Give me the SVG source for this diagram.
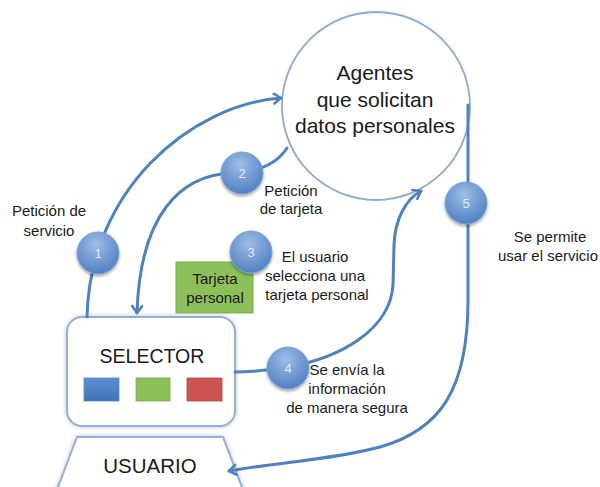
<svg xmlns="http://www.w3.org/2000/svg" width="600" height="487" viewBox="0 0 600 487">
<style>
text{font-family:"Liberation Sans",Arial,sans-serif;fill:#1a1a1a}
.lbl{font-size:15px;text-anchor:middle}
.big{font-size:21px;text-anchor:middle}
.num{font-size:13px;text-anchor:middle;fill:#e4ecf7}
.conn{fill:none;stroke:#4f81bd;stroke-width:3;stroke-linecap:round}
.bub{fill:url(#bg);stroke:#7ea3d4;stroke-width:1;filter:url(#sh)}
</style>
<defs>
<radialGradient id="bg" cx="0.45" cy="0.3" r="0.75">
<stop offset="0" stop-color="#9dbde6"/>
<stop offset="1" stop-color="#4a7cc0"/>
</radialGradient>
<linearGradient id="sq" x1="0" y1="0" x2="0" y2="1">
<stop offset="0" stop-color="#5b8fd0"/>
<stop offset="1" stop-color="#3f74bb"/>
</linearGradient>
<filter id="sh" x="-30%" y="-30%" width="160%" height="160%">
<feGaussianBlur in="SourceAlpha" stdDeviation="1.5"/>
<feOffset dx="0" dy="1.5" result="b"/>
<feComponentTransfer><feFuncA type="linear" slope="0.35"/></feComponentTransfer>
<feMerge><feMergeNode/><feMergeNode in="SourceGraphic"/></feMerge>
</filter>
<filter id="glow" x="-10%" y="-10%" width="120%" height="120%">
<feGaussianBlur in="SourceAlpha" stdDeviation="2"/>
<feComponentTransfer><feFuncA type="linear" slope="0.25"/></feComponentTransfer>
<feMerge><feMergeNode/><feMergeNode in="SourceGraphic"/></feMerge>
</filter>
<marker id="ah" markerUnits="userSpaceOnUse" markerWidth="14" markerHeight="14" refX="9" refY="6" orient="auto">
<path d="M2,1 L9,6 L2,11" fill="none" stroke="#4f81bd" stroke-width="2.6" stroke-linecap="round" stroke-linejoin="round"/>
</marker>
</defs>
<rect width="600" height="487" fill="#ffffff"/>

<g id="agentes">
<circle cx="376" cy="106" r="94" fill="#ffffff" stroke="#8eaad2" stroke-width="1.8"/>
<text class="big" x="375" y="80">Agentes</text>
<text class="big" x="375" y="107">que solicitan</text>
<text class="big" x="375" y="133">datos personales</text>
</g>

<g id="selector">
<rect x="67" y="317" width="168" height="109" rx="15" fill="#ffffff" stroke="#8fb0d8" stroke-width="2" filter="url(#glow)"/>
<text x="152" y="363" style="font-size:19.5px;text-anchor:middle">SELECTOR</text>
<rect x="84" y="378" width="35" height="23" fill="url(#sq)" stroke="#5b86c0" stroke-width="0.8"/>
<rect x="136" y="378" width="34" height="23" fill="#8dc05a" stroke="#7aa84c" stroke-width="0.8"/>
<rect x="187" y="378" width="35" height="23" fill="#cf5450" stroke="#b04643" stroke-width="0.8"/>
</g>

<g id="usuario">
<path d="M77,437 L223,437 L245,495 L55,495 Z" fill="#ffffff" stroke="#8fb0d8" stroke-width="2" filter="url(#glow)"/>
<text x="150" y="473" style="font-size:20.5px;text-anchor:middle">USUARIO</text>
</g>

<g id="tarjeta">
<rect x="176" y="262" width="77" height="51" fill="#8dc05a" stroke="#7aa84c" stroke-width="1"/>
<text class="lbl" x="215" y="284">Tarjeta</text>
<text class="lbl" x="215" y="303">personal</text>
</g>

<g id="connectors">
<path class="conn" d="M87,317 C90,190 190,105 281,98" marker-end="url(#ah)"/>
<path class="conn" d="M287,148 C278,162 262,172 232,173 C180,175 140,215 137,313" marker-end="url(#ah)"/>
<path class="conn" d="M235,372 C255,372 270,370 288,367 C340,358 390,330 393,285 L394,245 C395,220 405,200 421,191" marker-end="url(#ah)"/>
<path class="conn" d="M468,105 L468,300 C468,390 440,430 380,447 C330,460 280,462 229,471" marker-end="url(#ah)"/>
</g>

<g id="paso1">
<circle class="bub" cx="98" cy="253" r="21"/>
<text class="num" x="98" y="258">1</text>
</g>
<g id="paso2">
<circle class="bub" cx="242" cy="173" r="21"/>
<text class="num" x="242" y="178">2</text>
</g>
<g id="paso3">
<circle class="bub" cx="251" cy="252" r="21"/>
<text class="num" x="251" y="257">3</text>
</g>
<g id="paso4">
<circle class="bub" cx="288" cy="368" r="21"/>
<text class="num" x="288" y="373">4</text>
</g>
<g id="paso5">
<circle class="bub" cx="466" cy="203" r="21"/>
<text class="num" x="466" y="208">5</text>
</g>

<g id="labels">
<text class="lbl" x="49" y="216">Petición de</text>
<text class="lbl" x="49" y="236">servicio</text>
<text class="lbl" x="291" y="196">Petición</text>
<text class="lbl" x="291" y="214">de tarjeta</text>
<text class="lbl" x="315" y="262">El usuario</text>
<text class="lbl" x="315" y="281">selecciona una</text>
<text class="lbl" x="317" y="300">tarjeta personal</text>
<text class="lbl" x="347" y="375">Se envía la</text>
<text class="lbl" x="347" y="394">información</text>
<text class="lbl" x="347" y="413">de manera segura</text>
<text class="lbl" x="550" y="242">Se permite</text>
<text class="lbl" x="548" y="261">usar el servicio</text>
</g>
</svg>
